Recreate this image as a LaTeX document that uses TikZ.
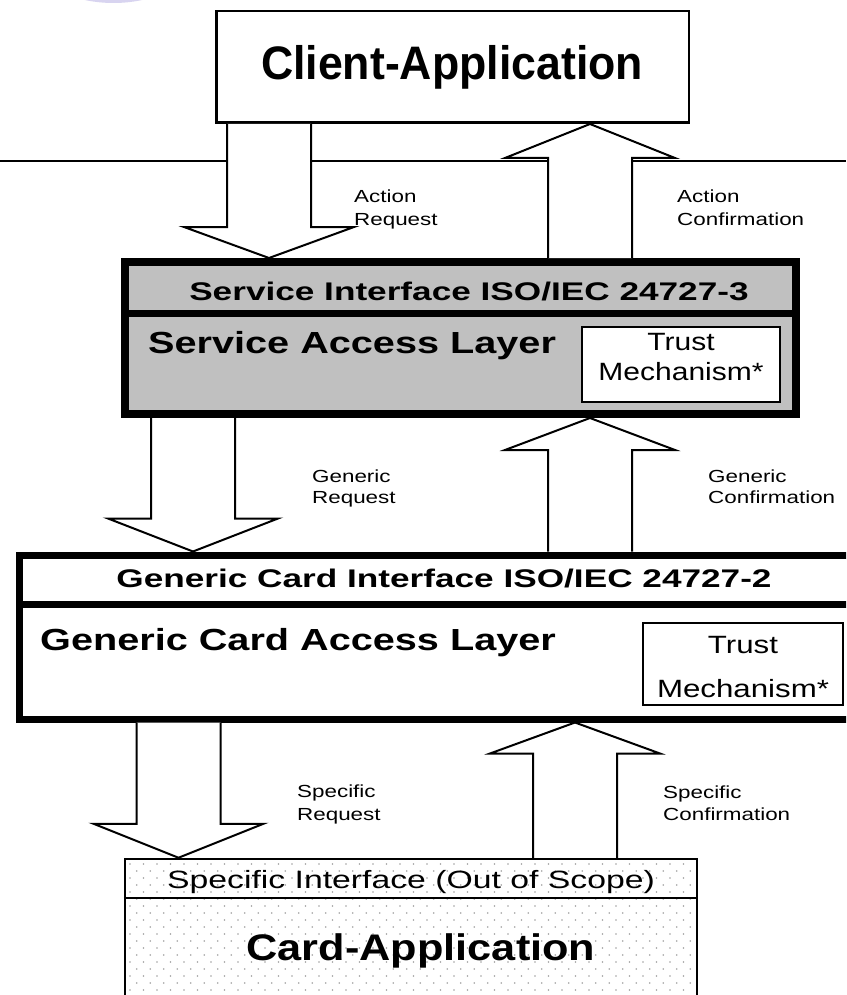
\documentclass[tikz,border=0pt]{standalone}
\usepackage{fontspec}
\setmainfont{Liberation Sans}
\usepackage{graphicx}
\usetikzlibrary{calc}

\definecolor{panelgray}{RGB}{192,192,192}
\definecolor{dotgray}{RGB}{160,160,160}
\definecolor{haze}{RGB}{216,212,240}

% size, horizontal stretch, text
\newcommand\stxt[3]{{\fontsize{#1}{#1}\selectfont\scalebox{#2}[1]{#3}}}

% block arrow pointing down: x centre, tail anchor, tip anchor, head length
\newcommand\blockdown[4]{%
  \draw[blockarrow] let \p1=(#2), \p2=(#3) in
    ({#1pt-42pt},\y1) -- ({#1pt-42pt},{\y2+#4pt}) -- ({#1pt-85pt},{\y2+#4pt})
    -- (#1pt,\y2) -- ({#1pt+85pt},{\y2+#4pt}) -- ({#1pt+42pt},{\y2+#4pt})
    -- ({#1pt+42pt},\y1);}
% block arrow pointing up
\newcommand\blockup[4]{%
  \draw[blockarrow] let \p1=(#2), \p2=(#3) in
    ({#1pt-42pt},\y1) -- ({#1pt-42pt},{\y2-#4pt}) -- ({#1pt-85pt},{\y2-#4pt})
    -- (#1pt,\y2) -- ({#1pt+85pt},{\y2-#4pt}) -- ({#1pt+42pt},{\y2-#4pt})
    -- ({#1pt+42pt},\y1);}

\tikzset{
  layer/.style={draw, inner sep=0pt},
  blockarrow/.style={draw=black, fill=white, line width=2pt, line join=miter},
  lbl/.style={anchor=base west, inner sep=0pt},
  ctr/.style={anchor=base, inner sep=0pt},
}

\begin{document}
\begin{tikzpicture}[x=1pt,y=-1pt]
\clip (0,0) rectangle (846,995);
\fill[white] (0,0) rectangle (846,995);

% faint decoration at the top edge
\fill[haze] (113.5,-134) circle (137pt);

% separator line
\coordinate (lineL) at (0,161);
\coordinate (lineR) at (846,161);
\draw[line width=1.6pt] (lineL) -- (lineR);

% client application
\node[layer, line width=2.5pt, fill=white, minimum width=472.5pt, minimum height=111.5pt]
  (client) at (452.5,67) {};
\node[ctr] (clienttxt) at (452,80) {\bfseries\stxt{47}{0.95}{Client-Application}};

% service access layer
\node[layer, line width=8pt, fill=panelgray, minimum width=671pt, minimum height=152pt]
  (svc) at (460.5,338) {};
\draw[line width=7pt] (svc.west |- 0,313) -- (svc.east |- 0,313);
\node[ctr] (svctitle) at (469,300) {\bfseries\stxt{25.5}{1.38}{Service Interface ISO/IEC 24727-3}};
\node[lbl] (svcname) at (148,353) {\bfseries\stxt{30.5}{1.3}{Service Access Layer}};
\node[layer, line width=2pt, fill=white, minimum width=198pt, minimum height=75pt]
  (svctrust) at (681,364.5) {};
\node[ctr] (svctrust1) at (681,350) {\stxt{25}{1.2}{Trust}};
\node[ctr] (svctrust2) at (681,380) {\stxt{25}{1.2}{Mechanism*}};

% generic card access layer
\node[layer, line width=7pt, fill=white, minimum width=850.5pt, minimum height=164pt]
  (gen) at (444.75,637) {};
\draw[line width=7pt] (gen.west |- 0,604) -- (gen.east |- 0,604);
\node[ctr] (gentitle) at (444,587) {\bfseries\stxt{25.5}{1.38}{Generic Card Interface ISO/IEC 24727-2}};
\node[lbl] (genname) at (40,650) {\bfseries\stxt{30.5}{1.3}{Generic Card Access Layer}};
\node[layer, line width=2pt, fill=white, minimum width=200pt, minimum height=82pt]
  (gentrust) at (743,664) {};
\node[ctr] (gentrust1) at (743,653) {\stxt{25}{1.25}{Trust}};
\node[ctr] (gentrust2) at (743,697) {\stxt{25}{1.25}{Mechanism*}};

% card application (dotted)
\node[layer, line width=2.5pt, fill=white, minimum width=572pt, minimum height=151pt]
  (card) at (411,934.5) {};
\begin{scope}
  \clip (126.5,860.5) rectangle (695.5,1010);
  \foreach \r in {0,...,20} {
    \foreach \c in {0,...,43} {
      \fill[dotgray] ({130+\c*13.5+mod(\r,2)*6.75},{864+\r*7}) circle (0.9pt);
    }
  }
\end{scope}
\draw[line width=2.2pt] (card.west |- 0,898) -- (card.east |- 0,898);
\node[ctr] (cardtitle) at (411,888) {\stxt{25}{1.35}{Specific Interface (Out of Scope)}};
\node[ctr] (cardname) at (421,960) {\bfseries\stxt{37}{1.17}{Card-Application}};

% request and confirmation arrows
\blockdown{269}{client.south}{svc.north}{31}
\blockup{590}{svc.north}{client.south}{34}
\blockdown{193}{svc.south}{gen.north}{33}
\blockup{590}{gen.north}{svc.south}{32}
\blockdown{178.5}{gen.south}{card.north}{34}
\blockup{575}{card.north}{gen.south}{31}

% arrow labels
\node[lbl] (ar1) at (354,203) {\stxt{17.5}{1.28}{Action}};
\node[lbl] (ar2) at (354,225) {\stxt{17.5}{1.28}{Request}};
\node[lbl] (ac1) at (677,203) {\stxt{17.5}{1.28}{Action}};
\node[lbl] (ac2) at (677,225) {\stxt{17.5}{1.28}{Confirmation}};
\node[lbl] (gr1) at (312,482) {\stxt{17.5}{1.28}{Generic}};
\node[lbl] (gr2) at (312,503) {\stxt{17.5}{1.28}{Request}};
\node[lbl] (gc1) at (708,482) {\stxt{17.5}{1.28}{Generic}};
\node[lbl] (gc2) at (708,503) {\stxt{17.5}{1.28}{Confirmation}};
\node[lbl] (sr1) at (297,797) {\stxt{17.5}{1.28}{Specific}};
\node[lbl] (sr2) at (297,820) {\stxt{17.5}{1.28}{Request}};
\node[lbl] (sc1) at (663,798) {\stxt{17.5}{1.28}{Specific}};
\node[lbl] (sc2) at (663,820) {\stxt{17.5}{1.28}{Confirmation}};
\end{tikzpicture}
\end{document}
